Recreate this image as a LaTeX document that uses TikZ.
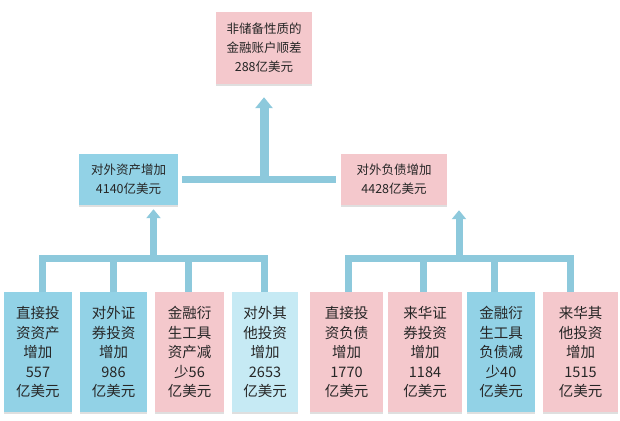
\documentclass[tikz,border=0pt]{standalone}
\usepackage{fontspec}
\setmainfont{Noto Sans CJK SC}
\usepackage{tikz}
\usetikzlibrary{arrows.meta,shadows}

\definecolor{boxblue}{RGB}{146,210,230}
\definecolor{boxpink}{RGB}{244,200,204}
\definecolor{boxpale}{RGB}{198,234,244}
\definecolor{linkblue}{RGB}{141,201,220}

\begin{document}
\begin{tikzpicture}[x=1pt,y=1pt,
  box/.style={fill=#1, text=black!85, align=center, inner sep=0pt,
    drop shadow={shadow xshift=0pt, shadow yshift=-2pt, opacity=0.25}},
  upper/.style={font=\fontsize{12.5}{19}\selectfont},
  leaf/.style={minimum width=#1, minimum height=120pt, font=\fontsize{14.5}{19.5}\selectfont},
  link/.style={draw=linkblue, line width=7pt},
  thick link/.style={draw=linkblue, line width=9pt}]
\useasboundingbox (0,0) rectangle (620,420);
\node[box=boxpink,upper,minimum width=96pt,minimum height=72pt] (gap) at (264,372) {非储备性质的\\金融账户顺差\\288亿美元};
\node[box=boxblue,upper,minimum width=99pt,minimum height=51pt] (assets) at (128.5,240.5) {对外资产增加\\4140亿美元};
\node[box=boxpink,upper,minimum width=106pt,minimum height=51pt] (liabs) at (394,240.5) {对外负债增加\\4428亿美元};
\node[box=boxblue,leaf=68pt] (fdia) at (38,68) {直接投\\资资产\\增加\\557\\亿美元};
\node[box=boxblue,leaf=67pt] (secsa) at (113.5,68) {对外证\\券投资\\增加\\986\\亿美元};
\node[box=boxpink,leaf=69pt] (deriva) at (189.5,68) {金融衍\\生工具\\资产减\\少56\\亿美元};
\node[box=boxpale,leaf=66pt] (othera) at (265,68) {对外其\\他投资\\增加\\2653\\亿美元};
\node[box=boxpink,leaf=73pt] (fdil) at (346.5,68) {直接投\\资负债\\增加\\1770\\亿美元};
\node[box=boxpink,leaf=74pt] (secsl) at (425,68) {来华证\\券投资\\增加\\1184\\亿美元};
\node[box=boxblue,leaf=68pt] (derivl) at (501,68) {金融衍\\生工具\\负债减\\少40\\亿美元};
\node[box=boxpink,leaf=75pt] (otherl) at (580.5,68) {来华其\\他投资\\增加\\1515\\亿美元};
\coordinate (abar) at (153.5,161);
\coordinate (lbar) at (459,161);
\coordinate (mbar) at (264,241.5);
\draw[link] ([xshift=4pt]fdia.north) |- (abar) -| ([xshift=-1pt]othera.north);
\draw[link] (secsa.north) -- (secsa.north |- abar);
\draw[link] ([xshift=-1pt]deriva.north) -- ([xshift=-1pt]deriva.north |- abar);
\draw[link] ([xshift=2pt]fdil.north) |- (lbar) -| ([xshift=-10pt]otherl.north);
\draw[link] ([xshift=-2pt]secsl.north) -- ([xshift=-2pt]secsl.north |- lbar);
\draw[link] ([xshift=-7pt]derivl.north) -- ([xshift=-7pt]derivl.north |- lbar);
\draw[link,-{Triangle[width=14pt,length=9pt]},shorten >=4pt] (abar) -- (abar |- assets.south);
\draw[link,-{Triangle[width=14pt,length=9pt]},shorten >=5pt] (lbar) -- (lbar |- liabs.south);
\draw[link] ([xshift=4pt]assets.east) -- ([xshift=-5pt]liabs.west);
\draw[thick link,-{Triangle[width=17pt,length=11pt]},shorten >=13pt] (mbar) -- (gap.south);
\end{tikzpicture}
\end{document}
